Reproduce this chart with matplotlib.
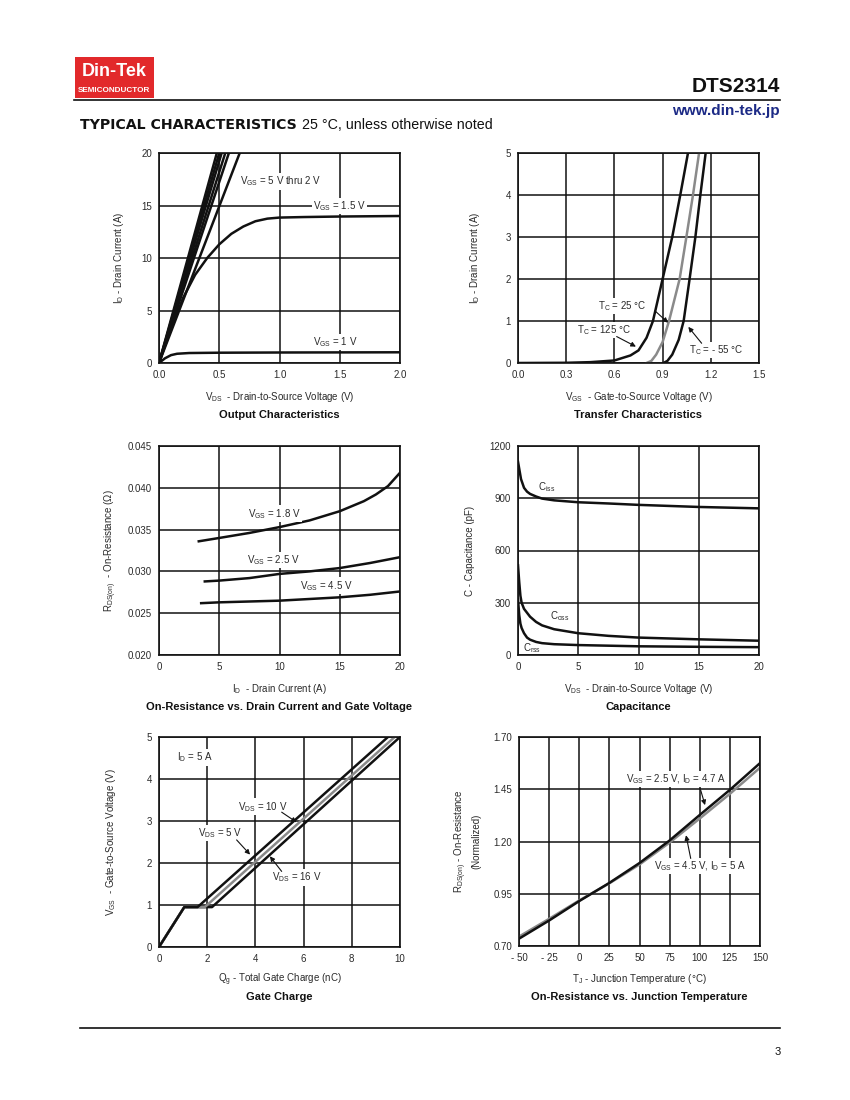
#!/usr/bin/env python3
import matplotlib
matplotlib.use('Agg')
import matplotlib.pyplot as plt
from matplotlib.patches import Rectangle
from matplotlib.lines import Line2D

plt.rcParams['font.family'] = ['Liberation Sans', 'DejaVu Sans']
plt.rcParams['mathtext.fontset'] = 'custom'
plt.rcParams['mathtext.rm'] = 'Liberation Sans'
plt.rcParams['mathtext.it'] = 'Liberation Sans:italic'
plt.rcParams['mathtext.bf'] = 'Liberation Sans:bold'

# ---- data ----
# Output characteristics (VDS in V, ID in A)
out_vgs_hi_end = [0.48, 0.50, 0.52, 0.55, 0.58, 0.67]   # VDS where each 5 V..2 V curve hits 20 A
out_15_x = [0, 0.1, 0.2, 0.3, 0.4, 0.5, 0.6, 0.7, 0.8, 0.9, 1.0, 1.2, 1.5, 2.0]
out_15_y = [0, 3.3, 6.2, 8.4, 10.0, 11.3, 12.3, 13.0, 13.5, 13.75, 13.85, 13.9, 13.95, 14.0]
out_1_x = [0, 0.05, 0.1, 0.15, 0.25, 0.5, 1.0, 2.0]
out_1_y = [0, 0.45, 0.75, 0.88, 0.95, 0.98, 1.0, 1.02]

# Transfer characteristics (VGS in V, ID in A)
tr_125_x = [0, 0.3, 0.45, 0.6, 0.7, 0.75, 0.80, 0.84, 0.90, 0.96, 1.01, 1.058]
tr_125_y = [0, 0.005, 0.02, 0.06, 0.18, 0.3, 0.6, 1.0, 2.0, 3.0, 4.0, 5.0]
tr_25_x = [0.80, 0.83, 0.86, 0.90, 0.94, 1.006, 1.048, 1.089, 1.127]
tr_25_y = [0, 0.05, 0.2, 0.5, 1.0, 2.0, 3.0, 4.0, 5.0]
tr_m55_x = [0.905, 0.93, 0.96, 1.0, 1.031, 1.068, 1.104, 1.135, 1.168]
tr_m55_y = [0, 0.05, 0.2, 0.55, 1.0, 2.0, 3.0, 4.0, 5.0]

# On-resistance vs drain current (ID in A, RDS in ohm)
ron_18_x = [3.3, 5, 7.5, 10, 12.5, 15, 17, 18, 19, 20]
ron_18_y = [0.0336, 0.0340, 0.0346, 0.0353, 0.0361, 0.0372, 0.0384, 0.0392, 0.0402, 0.0418]
ron_25_x = [3.8, 5, 7.5, 10, 12.5, 15, 17.5, 20]
ron_25_y = [0.0288, 0.0289, 0.0292, 0.0297, 0.0300, 0.0304, 0.0310, 0.0317]
ron_45_x = [3.5, 5, 10, 15, 17.5, 20]
ron_45_y = [0.0262, 0.0263, 0.0265, 0.0269, 0.0272, 0.0276]

# Capacitance (VDS in V, C in pF)
ciss_x = [0, 0.1, 0.25, 0.5, 0.75, 1, 1.5, 2, 3, 5, 7.5, 10, 15, 20]
ciss_y = [1110, 1070, 1010, 960, 938, 925, 910, 898, 888, 877, 870, 862, 850, 842]
coss_x = [0, 0.1, 0.2, 0.3, 0.5, 1, 1.5, 2, 3, 5, 7.5, 10, 15, 20]
coss_y = [515, 420, 340, 300, 265, 220, 190, 170, 148, 125, 110, 100, 90, 82]
crss_x = [0, 0.1, 0.2, 0.3, 0.5, 0.75, 1, 1.5, 2, 3, 5, 10, 15, 20]
crss_y = [320, 230, 180, 155, 125, 100, 88, 75, 68, 62, 57, 50, 47, 45]

# Gate charge (Qg in nC, VGS in V)
qg_5_x = [0, 1.05, 1.6, 9.5]
qg_5_y = [0, 0.95, 0.95, 5.0]
qg_10_x = [0, 1.05, 1.9, 9.78]
qg_10_y = [0, 0.95, 0.95, 5.0]
qg_16_x = [0, 1.05, 2.2, 10.0]
qg_16_y = [0, 0.95, 0.95, 5.0]

# On-resistance vs junction temperature (TJ in degC, normalized)
tj = [-50, -25, 0, 25, 50, 75, 100, 125, 150]
rn_25 = [0.735, 0.822, 0.915, 1.002, 1.097, 1.205, 1.327, 1.447, 1.575]
rn_45 = [0.745, 0.830, 0.918, 1.0, 1.09, 1.195, 1.31, 1.428, 1.553]

# ---- figure ----
W, H = 850, 1100
fig = plt.figure(figsize=(8.5, 11), dpi=100)

BLACK = '#111111'
GRAY = '#8a8a8a'
TXT = '#2a2a2a'
LW = 1.8


def px_axes(l, t, r, b):
    return fig.add_axes([l / W, 1 - b / H, (r - l) / W, (b - t) / H])


def style(ax, xlim, ylim, xt, yt, xtl, ytl, xlabel, ylabel, title, ylab_off, xlab_off=34, title_off=52):
    ax.set_xlim(xlim)
    ax.set_ylim(ylim)
    ax.set_xticks(xt)
    ax.set_yticks(yt)
    ax.set_xticklabels(xtl)
    ax.set_yticklabels(ytl)
    ax.grid(True, color=BLACK, lw=1.1)
    ax.set_axisbelow(True)
    ax.tick_params(length=0, labelsize=7, colors=TXT, pad=5)
    for s in ax.spines.values():
        s.set_linewidth(1.2)
        s.set_color(BLACK)
    bb = ax.get_position()
    hpx = bb.height * H
    wpx = bb.width * W
    ax.text(0.5, -xlab_off / hpx, xlabel, transform=ax.transAxes, ha='center', va='center',
            fontsize=7, color=TXT)
    ax.text(0.5, -title_off / hpx, title, transform=ax.transAxes, ha='center', va='center',
            fontsize=8, fontweight='bold', color=BLACK)
    ax.text(-ylab_off / wpx, 0.5, ylabel, transform=ax.transAxes, ha='center', va='center',
            rotation=90, fontsize=7, color=TXT, linespacing=1.3)


def label(ax, x, y, s, box=True):
    kw = {}
    if box:
        kw['bbox'] = dict(facecolor='white', edgecolor='none', pad=1.0)
    ax.text(x, y, s, fontsize=7, color=TXT, ha='left', va='center', zorder=5, **kw)


def arrow(ax, start, end):
    ax.annotate('', xy=end, xytext=start,
                arrowprops=dict(arrowstyle='-|>', color=BLACK, lw=0.8, mutation_scale=7,
                                shrinkA=0, shrinkB=0), zorder=6)


# 1. Output characteristics
ax1 = px_axes(159, 153, 400, 363)
for xe in out_vgs_hi_end:
    ax1.plot([0, xe], [0, 20], color=BLACK, lw=LW, clip_on=True)
ax1.plot(out_15_x, out_15_y, color=BLACK, lw=LW)
ax1.plot(out_1_x, out_1_y, color=BLACK, lw=LW)
style(ax1, (0, 2.0), (0, 20), [0, 0.5, 1.0, 1.5, 2.0], [0, 5, 10, 15, 20],
      ['0.0', '0.5', '1.0', '1.5', '2.0'], ['0', '5', '10', '15', '20'],
      r'V$_{\rm DS}$  - Drain-to-Source Voltage (V)', r'I$_{\rm D}$ - Drain Current (A)',
      'Output Characteristics', 40)
label(ax1, 0.67, 17.3, r'V$_{\rm GS}$ = 5 V thru 2 V')
label(ax1, 1.28, 14.95, r'V$_{\rm GS}$ = 1.5 V')
label(ax1, 1.28, 2.0, r'V$_{\rm GS}$ = 1 V')

# 2. Transfer characteristics
ax2 = px_axes(518, 153, 759, 363)
ax2.plot(tr_125_x, tr_125_y, color=BLACK, lw=LW)
ax2.plot(tr_25_x, tr_25_y, color=GRAY, lw=LW)
ax2.plot(tr_m55_x, tr_m55_y, color=BLACK, lw=LW)
style(ax2, (0, 1.5), (0, 5), [0, 0.3, 0.6, 0.9, 1.2, 1.5], [0, 1, 2, 3, 4, 5],
      ['0.0', '0.3', '0.6', '0.9', '1.2', '1.5'], ['0', '1', '2', '3', '4', '5'],
      r'V$_{\rm GS}$  - Gate-to-Source Voltage (V)', r'I$_{\rm D}$ - Drain Current (A)',
      'Transfer Characteristics', 43)
label(ax2, 0.50, 1.36, r'T$_{\rm C}$ = 25 °C')
arrow(ax2, (0.853, 1.24), (0.934, 0.96))
label(ax2, 0.367, 0.79, r'T$_{\rm C}$ = 125 °C')
arrow(ax2, (0.614, 0.63), (0.734, 0.39))
label(ax2, 1.066, 0.31, r'T$_{\rm C}$ = - 55 °C')
arrow(ax2, (1.143, 0.47), (1.06, 0.86))

# 3. On-resistance vs drain current
ax3 = px_axes(159, 446, 400, 655)
ax3.plot(ron_18_x, ron_18_y, color=BLACK, lw=LW)
ax3.plot(ron_25_x, ron_25_y, color=BLACK, lw=LW)
ax3.plot(ron_45_x, ron_45_y, color=BLACK, lw=LW)
style(ax3, (0, 20), (0.020, 0.045), [0, 5, 10, 15, 20],
      [0.020, 0.025, 0.030, 0.035, 0.040, 0.045],
      ['0', '5', '10', '15', '20'], ['0.020', '0.025', '0.030', '0.035', '0.040', '0.045'],
      r'I$_{\rm D}$  - Drain Current (A)', r'R$_{\rm DS(on)}$  - On-Resistance ($\Omega$)',
      'On-Resistance vs. Drain Current and Gate Voltage', 48)
label(ax3, 7.36, 0.0369, r'V$_{\rm GS}$ = 1.8 V')
label(ax3, 7.28, 0.03135, r'V$_{\rm GS}$ = 2.5 V')
label(ax3, 11.7, 0.0283, r'V$_{\rm GS}$ = 4.5 V')

# 4. Capacitance
ax4 = px_axes(518, 446, 759, 655)
ax4.plot(ciss_x, ciss_y, color=BLACK, lw=LW)
ax4.plot(coss_x, coss_y, color=BLACK, lw=LW)
ax4.plot(crss_x, crss_y, color=BLACK, lw=LW)
style(ax4, (0, 20), (0, 1200), [0, 5, 10, 15, 20], [0, 300, 600, 900, 1200],
      ['0', '5', '10', '15', '20'], ['0', '300', '600', '900', '1200'],
      r'V$_{\rm DS}$  - Drain-to-Source Voltage (V)', 'C - Capacitance (pF)',
      'Capacitance', 48)
label(ax4, 1.68, 965, r'C$_{\rm iss}$', box=False)
label(ax4, 2.66, 224, r'C$_{\rm oss}$', box=False)
label(ax4, 0.40, 40, r'C$_{\rm rss}$', box=False)

# 5. Gate charge
ax5 = px_axes(159, 737, 400, 947)
ax5.plot(qg_16_x, qg_16_y, color=BLACK, lw=LW)
ax5.plot(qg_10_x, qg_10_y, color=GRAY, lw=LW)
ax5.plot(qg_5_x, qg_5_y, color=BLACK, lw=LW)
style(ax5, (0, 10), (0, 5), [0, 2, 4, 6, 8, 10], [0, 1, 2, 3, 4, 5],
      ['0', '2', '4', '6', '8', '10'], ['0', '1', '2', '3', '4', '5'],
      r'Q$_{\rm g}$ - Total Gate Charge (nC)', r'V$_{\rm GS}$  - Gate-to-Source Voltage (V)',
      'Gate Charge', 48, 33, 50)
label(ax5, 0.76, 4.51, r'I$_{\rm D}$ = 5 A')
label(ax5, 3.29, 3.34, r'V$_{\rm DS}$ = 10 V')
arrow(ax5, (5.09, 3.21), (5.71, 2.97))
label(ax5, 1.63, 2.71, r'V$_{\rm DS}$ = 5 V')
arrow(ax5, (3.22, 2.55), (3.78, 2.2))
label(ax5, 4.67, 1.66, r'V$_{\rm DS}$ = 16 V')
arrow(ax5, (5.09, 1.8), (4.6, 2.16))

# 6. On-resistance vs junction temperature
ax6 = px_axes(519, 737, 760, 946)
ax6.plot(tj, rn_45, color=GRAY, lw=LW)
ax6.plot(tj, rn_25, color=BLACK, lw=LW)
style(ax6, (-50, 150), (0.70, 1.70), [-50, -25, 0, 25, 50, 75, 100, 125, 150],
      [0.70, 0.95, 1.20, 1.45, 1.70],
      ['- 50', '- 25', '0', '25', '50', '75', '100', '125', '150'],
      ['0.70', '0.95', '1.20', '1.45', '1.70'],
      r'T$_{\rm J}$ - Junction Temperature (°C)',
      'R$_{\\rm DS(on)}$ - On-Resistance\n(Normalized)',
      'On-Resistance vs. Junction Temperature', 52, 33, 51)
label(ax6, 38.8, 1.50, r'V$_{\rm GS}$ = 2.5 V, I$_{\rm D}$ = 4.7 A')
arrow(ax6, (100.8, 1.445), (104.4, 1.374))
label(ax6, 62.3, 1.084, r'V$_{\rm GS}$ = 4.5 V, I$_{\rm D}$ = 5 A')
arrow(ax6, (92.5, 1.119), (88.6, 1.23))

# ---- page header / footer ----
fig.patches.append(Rectangle((75 / W, 1 - 98 / H), 79 / W, 41 / H, transform=fig.transFigure,
                             facecolor='#e2292b', edgecolor='none'))
fig.text(114 / W, 1 - 72 / H, 'Din-Tek', color='white', fontsize=13, fontweight='bold',
         ha='center', va='center')
fig.text(114.5 / W, 1 - 90 / H, 'SEMICONDUCTOR', color='white', fontsize=5.9, fontweight='bold',
         ha='center', va='center')
fig.add_artist(Line2D([74 / W, 780 / W], [1 - 100 / H, 1 - 100 / H], color=BLACK, lw=1.2,
                      transform=fig.transFigure))
fig.text(780 / W, 1 - 87 / H, 'DTS2314', fontsize=15, fontweight='bold', color=BLACK,
         ha='right', va='center')
fig.text(780 / W, 1 - 111 / H, 'www.din-tek.jp', fontsize=11, fontweight='bold', color='#1c2a86',
         ha='right', va='center')
fig.text(80 / W, 1 - 125 / H, 'TYPICAL CHARACTERISTICS', fontsize=10.2, fontweight='heavy',
         family='DejaVu Sans', color=BLACK, ha='left', va='center')
fig.text(302 / W, 1 - 125 / H, '25 °C, unless otherwise noted', fontsize=10.3, color=BLACK,
         ha='left', va='center')
fig.add_artist(Line2D([80 / W, 780 / W], [1 - 1028 / H, 1 - 1028 / H], color=BLACK, lw=1.2,
                      transform=fig.transFigure))
fig.text(778 / W, 1 - 1052 / H, '3', fontsize=8, color=BLACK, ha='center', va='center')

fig.savefig('out.png', dpi=100)
